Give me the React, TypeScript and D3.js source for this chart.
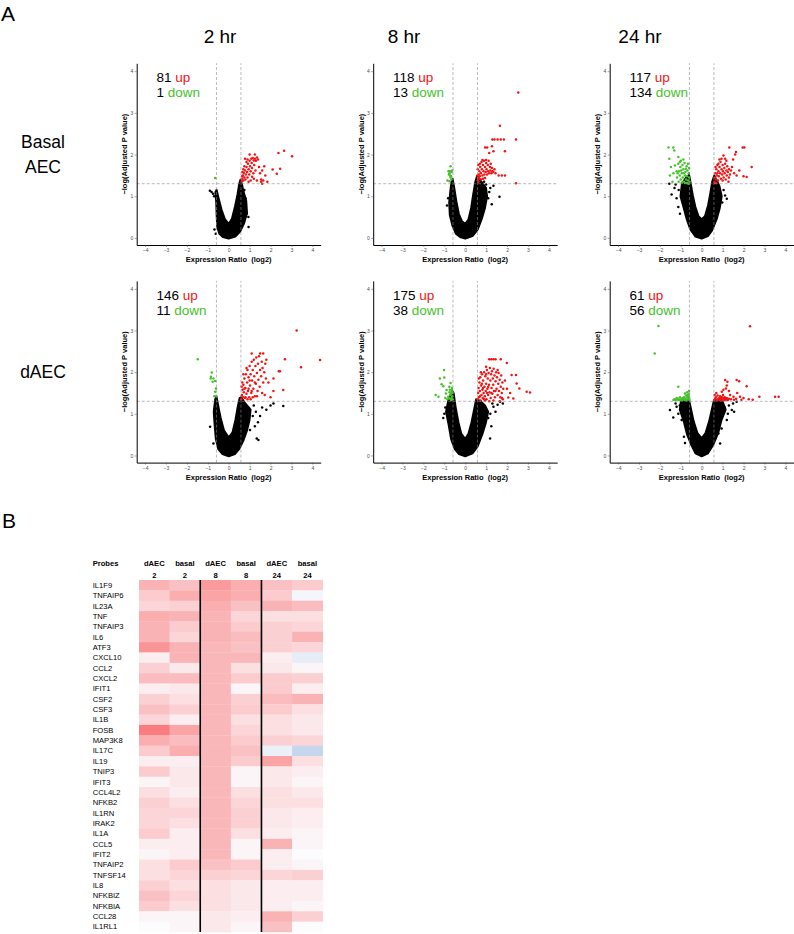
import React, { useEffect, useRef } from 'react'
import * as d3 from 'd3'

type Pt = [number, number]

// panel A: volcano plots
const hours = ['2 hr', '8 hr', '24 hr']
const hourTitleX = [220, 404, 640]
const cellTypes = [['Basal', 'AEC'], ['dAEC']]
const upCounts = [81, 118, 117, 146, 175, 61]
const downCounts = [1, 13, 134, 11, 38, 56]
const xTicks = [-4, -3, -2, -1, 0, 1, 2, 3, 4]
const yTicks = [0, 1, 2, 3, 4]
const foldCut = 0.585
const pCut = 1.301

// outline of the dense black (non significant) cloud, log2 ratio vs -log10 p
const basal2Body: Pt[] = [[0, -0.02], [-0.28, 0.02], [-0.45, 0.1], [-0.55, 0.25], [-0.58, 0.55], [-0.6, 0.85], [-0.64, 1.1], [-0.58, 1.16], [-0.48, 0.95], [-0.34, 0.68], [-0.18, 0.45], [0, 0.34], [0.15, 0.46], [0.3, 0.76], [0.42, 1.05], [0.5, 1.3], [0.56, 1.4], [0.63, 1.3], [0.72, 1.1], [0.84, 0.9], [0.88, 0.6], [0.74, 0.35], [0.55, 0.15], [0.32, 0.03]]
const basal8Body: Pt[] = [[0, -0.02], [-0.25, 0.02], [-0.45, 0.1], [-0.62, 0.3], [-0.74, 0.55], [-0.77, 0.85], [-0.72, 1.1], [-0.66, 1.35], [-0.6, 1.42], [-0.52, 1.2], [-0.42, 0.88], [-0.3, 0.58], [-0.15, 0.4], [0, 0.34], [0.15, 0.44], [0.28, 0.72], [0.38, 1.05], [0.48, 1.35], [0.56, 1.48], [0.64, 1.45], [0.85, 1.3], [1.0, 1.2], [1.05, 1.0], [0.95, 0.72], [0.8, 0.46], [0.6, 0.2], [0.35, 0.04]]
const basal24Body: Pt[] = [[0, -0.02], [-0.3, 0.03], [-0.55, 0.2], [-0.72, 0.45], [-0.88, 0.75], [-1.02, 1.0], [-0.95, 1.3], [-0.75, 1.45], [-0.6, 1.52], [-0.52, 1.3], [-0.42, 1.02], [-0.3, 0.75], [-0.15, 0.52], [0, 0.45], [0.15, 0.52], [0.3, 0.78], [0.4, 1.05], [0.5, 1.35], [0.6, 1.5], [0.68, 1.42], [0.85, 1.25], [0.96, 1.0], [0.86, 0.7], [0.72, 0.45], [0.5, 0.18], [0.3, 0.04]]
const dAEC2Body: Pt[] = [[0, -0.02], [-0.3, 0.03], [-0.5, 0.15], [-0.62, 0.4], [-0.68, 0.75], [-0.72, 1.05], [-0.65, 1.35], [-0.58, 1.42], [-0.5, 1.2], [-0.38, 0.9], [-0.22, 0.6], [0, 0.44], [0.18, 0.56], [0.32, 0.86], [0.42, 1.15], [0.52, 1.38], [0.6, 1.4], [0.8, 1.25], [1.05, 1.1], [1.0, 0.85], [0.88, 0.6], [0.7, 0.35], [0.5, 0.15], [0.3, 0.03]]
const dAEC8Body: Pt[] = [[0, -0.02], [-0.3, 0.03], [-0.5, 0.15], [-0.68, 0.4], [-0.8, 0.75], [-0.92, 1.05], [-0.8, 1.35], [-0.62, 1.55], [-0.55, 1.5], [-0.45, 1.15], [-0.32, 0.8], [-0.18, 0.52], [0, 0.4], [0.15, 0.52], [0.3, 0.8], [0.42, 1.1], [0.52, 1.35], [0.7, 1.32], [0.95, 1.2], [1.1, 1.05], [1.0, 0.8], [0.85, 0.55], [0.6, 0.22], [0.35, 0.05]]
const dAEC24Body: Pt[] = [[0, -0.02], [-0.3, 0.05], [-0.5, 0.25], [-0.7, 0.5], [-0.85, 0.8], [-1.05, 1.1], [-1.0, 1.3], [-0.6, 1.33], [-0.52, 1.15], [-0.38, 0.82], [-0.2, 0.54], [0, 0.42], [0.18, 0.54], [0.35, 0.82], [0.5, 1.15], [0.58, 1.33], [1.0, 1.3], [1.15, 1.1], [0.95, 0.85], [0.8, 0.55], [0.55, 0.25], [0.3, 0.05]]

// scattered non significant probes outside the cloud
const basal2Black: Pt[] = [[-0.9, 1.13], [-0.82, 1.1], [-0.75, 1.06], [-0.7, 1.0], [0.86, 0.58], [0.94, 0.5], [0.95, 0.26], [0.7, 0.74], [0.8, 0.95], [0.75, 1.15], [-0.68, 0.2], [-0.62, 0.1]]
const basal8Black: Pt[] = [[1.64, 0.99], [1.35, 1.25], [1.27, 0.81], [1.15, 1.1], [1.1, 0.95], [1.2, 1.2], [-0.87, 0.78], [-0.82, 0.95], [0.9, 1.35], [1.0, 1.28]]
const basal24Black: Pt[] = [[-1.44, 1.04], [-1.12, 0.74], [-1.04, 0.58], [-1.55, 1.3], [-1.2, 0.95], [-1.1, 1.15], [-1.3, 1.2], [1.2, 0.94], [1.12, 1.02], [1.05, 1.15], [0.98, 0.85], [-1.25, 1.28]]
const dAEC2Black: Pt[] = [[-0.89, 0.69], [-0.73, 0.29], [-0.65, 1.09], [2.14, 1.25], [2.0, 1.2], [1.8, 1.1], [1.5, 0.95], [1.4, 0.8], [1.25, 0.7], [1.42, 0.37], [1.34, 0.41], [1.02, 0.61], [2.61, 1.19], [1.6, 1.15], [1.3, 1.05], [1.15, 0.95], [1.2, 1.2]]
const dAEC8Black: Pt[] = [[-1.0, 1.0], [-0.95, 1.15], [-1.05, 0.9], [1.19, 0.41], [1.35, 1.17], [1.67, 1.29], [1.8, 1.25], [1.55, 1.22], [1.1, 0.9], [1.2, 1.0], [1.45, 1.05], [1.25, 0.7], [1.3, 1.25]]
const dAEC24Black: Pt[] = [[-1.52, 1.09], [-1.36, 0.91], [-1.2, 1.17], [-1.12, 1.0], [-0.96, 0.85], [-1.25, 1.25], [-1.05, 1.2], [1.67, 1.29], [1.44, 1.09], [1.55, 1.05], [1.2, 0.85], [0.88, 0.29], [0.8, 0.53], [1.3, 1.2], [1.5, 1.25], [1.1, 1.15], [1.25, 1.0], [0.95, 0.65], [-0.85, 0.45], [-0.8, 0.3]]

// significantly up regulated probes
const basal2Up: Pt[] = [[0.62, 1.36], [0.65, 1.42], [0.68, 1.5], [0.7, 1.38], [0.72, 1.56], [0.75, 1.45], [0.78, 1.62], [0.8, 1.4], [0.82, 1.52], [0.85, 1.7], [0.88, 1.58], [0.9, 1.45], [0.92, 1.78], [0.95, 1.65], [0.98, 1.52], [1.0, 1.85], [1.02, 1.72], [1.05, 1.6], [1.08, 1.9], [1.1, 1.8], [1.12, 1.68], [1.15, 1.92], [1.18, 1.55], [1.2, 1.86], [1.22, 1.75], [1.25, 1.9], [1.28, 1.62], [1.3, 1.85], [1.35, 1.93], [0.9, 1.88], [0.85, 1.82], [0.75, 1.72], [0.7, 1.65], [0.66, 1.58], [0.64, 1.48], [1.4, 1.88], [1.45, 1.7], [1.5, 1.55], [1.55, 1.4], [1.6, 1.62], [1.7, 1.72], [1.65, 1.38], [1.2, 1.42], [1.35, 1.38], [1.05, 1.38], [1.12, 1.47], [0.95, 1.35], [1.75, 1.5], [1.85, 1.35], [2.1, 1.64], [2.3, 1.54], [2.38, 2.04], [2.65, 2.09], [3.03, 1.96], [2.46, 1.66], [1.6, 1.3], [1.0, 2.0], [0.78, 1.9], [1.25, 2.0], [1.55, 1.35]]
const basal8Up: Pt[] = [[2.54, 3.49], [1.66, 2.69], [1.3, 2.36], [1.4, 2.36], [1.55, 2.36], [1.7, 2.36], [1.85, 2.36], [2.43, 2.36], [0.95, 2.17], [1.05, 2.17], [1.28, 2.2], [1.15, 2.04], [1.35, 2.08], [1.9, 2.08], [1.6, 1.5], [1.75, 1.5], [1.9, 1.5], [2.43, 1.31], [0.62, 1.45], [0.65, 1.52], [0.68, 1.6], [0.7, 1.48], [0.72, 1.7], [0.75, 1.55], [0.78, 1.82], [0.8, 1.65], [0.82, 1.5], [0.85, 1.75], [0.88, 1.6], [0.9, 1.85], [0.92, 1.52], [0.95, 1.7], [0.98, 1.58], [1.0, 1.8], [1.02, 1.65], [1.05, 1.52], [1.08, 1.75], [1.1, 1.6], [1.12, 1.85], [1.15, 1.55], [1.18, 1.7], [1.2, 1.62], [1.22, 1.78], [1.25, 1.55], [1.28, 1.68], [1.3, 1.6], [1.35, 1.58], [0.66, 1.42], [0.6, 1.38], [0.64, 1.35], [0.75, 1.4], [0.85, 1.42], [0.95, 1.44], [0.7, 1.78], [0.82, 1.87], [1.0, 1.87], [0.6, 1.65], [0.63, 1.75], [1.4, 1.65], [1.45, 1.55], [0.58, 1.5]]
const basal24Up: Pt[] = [[1.96, 2.17], [2.04, 2.17], [1.32, 2.17], [1.64, 2.06], [2.39, 1.7], [2.15, 1.46], [2.0, 1.48], [1.67, 1.5], [1.04, 1.98], [1.12, 1.9], [1.5, 1.88], [1.45, 1.7], [1.8, 1.62], [1.55, 1.55], [1.3, 1.45], [1.6, 2.0], [0.6, 1.35], [0.62, 1.45], [0.65, 1.55], [0.68, 1.4], [0.7, 1.65], [0.72, 1.5], [0.75, 1.75], [0.78, 1.38], [0.8, 1.6], [0.82, 1.48], [0.85, 1.7], [0.88, 1.55], [0.9, 1.82], [0.92, 1.42], [0.95, 1.65], [0.98, 1.52], [1.0, 1.75], [1.02, 1.6], [1.05, 1.45], [1.08, 1.68], [1.1, 1.55], [1.12, 1.78], [1.15, 1.4], [1.18, 1.62], [1.2, 1.5], [1.22, 1.72], [1.25, 1.58], [1.28, 1.35], [1.3, 1.65], [1.35, 1.52], [0.64, 1.32], [0.7, 1.32], [0.75, 1.55], [0.85, 1.88], [0.95, 1.9], [1.4, 1.62], [1.0, 1.38], [0.66, 1.7], [0.8, 1.78], [1.18, 1.85]]
const dAEC2Up: Pt[] = [[1.5, 2.45], [1.65, 2.45], [1.1, 2.45], [2.14, 1.85], [2.4, 2.02], [2.14, 1.55], [3.25, 3.0], [2.69, 2.31], [3.46, 2.12], [2.61, 1.57], [2.45, 2.02], [4.37, 2.29], [1.9, 1.75], [1.75, 2.2], [2.0, 1.4], [0.6, 1.35], [0.63, 1.45], [0.66, 1.58], [0.68, 1.4], [0.7, 1.7], [0.72, 1.52], [0.75, 1.85], [0.78, 1.38], [0.8, 1.62], [0.82, 1.95], [0.85, 1.48], [0.88, 1.75], [0.9, 2.05], [0.92, 1.55], [0.95, 1.88], [0.98, 1.4], [1.0, 2.15], [1.02, 1.68], [1.05, 1.95], [1.08, 1.5], [1.1, 2.25], [1.12, 1.8], [1.15, 2.05], [1.18, 1.6], [1.2, 2.3], [1.22, 1.9], [1.25, 1.42], [1.28, 2.15], [1.3, 1.72], [1.32, 2.35], [1.35, 1.98], [1.38, 1.55], [1.4, 2.2], [1.42, 1.82], [1.45, 2.38], [1.48, 1.65], [1.5, 2.05], [1.55, 1.9], [1.58, 2.25], [1.6, 1.5], [1.62, 2.1], [1.65, 1.75], [1.7, 2.0], [1.72, 1.45], [1.78, 1.85], [1.8, 2.3], [0.65, 1.75], [0.7, 1.95], [0.75, 1.6], [0.8, 1.4], [0.85, 2.1], [0.95, 1.6], [1.05, 1.35], [1.15, 1.4], [1.25, 1.75], [1.35, 1.42], [0.62, 1.65], [0.9, 1.35], [1.0, 1.8], [1.1, 1.55]]
const dAEC8Up: Pt[] = [[1.15, 2.31], [1.25, 2.31], [1.35, 2.31], [1.45, 2.31], [1.7, 2.31], [1.99, 2.22], [1.0, 2.13], [2.22, 1.93], [2.43, 1.93], [2.46, 1.73], [2.59, 1.61], [2.94, 1.53], [3.1, 1.51], [2.06, 1.39], [2.3, 1.37], [2.0, 1.6], [2.15, 1.5], [1.9, 1.8], [0.6, 1.35], [0.62, 1.5], [0.64, 1.62], [0.66, 1.4], [0.68, 1.75], [0.7, 1.55], [0.72, 1.88], [0.74, 1.32], [0.76, 1.68], [0.78, 1.45], [0.8, 1.95], [0.82, 1.58], [0.84, 1.38], [0.86, 1.8], [0.88, 1.5], [0.9, 2.0], [0.92, 1.65], [0.94, 1.42], [0.96, 1.9], [0.98, 1.55], [1.0, 1.72], [1.02, 1.35], [1.04, 2.05], [1.06, 1.6], [1.08, 1.85], [1.1, 1.45], [1.12, 1.98], [1.14, 1.7], [1.16, 1.52], [1.18, 2.1], [1.2, 1.8], [1.22, 1.38], [1.24, 1.95], [1.26, 1.62], [1.28, 2.02], [1.3, 1.48], [1.32, 1.85], [1.34, 1.7], [1.36, 2.08], [1.38, 1.55], [1.4, 1.92], [1.42, 1.4], [1.45, 1.78], [1.48, 2.0], [1.5, 1.6], [1.52, 1.88], [1.55, 1.45], [1.58, 1.72], [1.6, 1.98], [1.62, 1.55], [1.65, 1.82], [1.68, 1.4], [1.7, 1.65], [1.72, 1.92], [1.75, 1.5], [1.78, 1.75], [1.8, 1.35], [1.82, 1.6], [0.65, 1.85], [0.75, 2.0], [0.85, 1.62], [0.95, 1.32], [1.05, 1.5], [1.15, 1.3], [1.25, 1.5], [1.35, 1.32], [1.45, 1.55], [1.55, 2.05], [1.65, 1.3], [1.75, 1.38], [0.7, 1.42], [0.8, 1.72], [0.9, 1.35], [1.0, 1.95], [1.1, 1.65]]
const dAEC24Up: Pt[] = [[2.31, 3.1], [1.12, 1.81], [1.23, 1.77], [1.67, 1.81], [1.79, 1.78], [2.15, 1.66], [1.04, 1.58], [1.16, 1.61], [0.96, 1.53], [1.36, 1.45], [1.52, 1.41], [1.83, 1.41], [2.44, 1.34], [2.76, 1.41], [3.51, 1.41], [3.68, 1.41], [1.55, 1.34], [1.2, 1.68], [1.3, 1.55], [1.1, 1.4], [1.7, 1.5], [2.0, 1.38], [0.6, 1.33], [0.64, 1.36], [0.68, 1.4], [0.72, 1.34], [0.76, 1.44], [0.8, 1.37], [0.84, 1.33], [0.88, 1.42], [0.92, 1.36], [0.96, 1.4], [1.0, 1.34], [1.04, 1.38], [1.08, 1.33], [1.12, 1.36], [1.16, 1.34], [1.2, 1.38], [1.25, 1.33], [1.3, 1.36], [0.62, 1.45], [0.7, 1.5], [0.78, 1.33], [0.86, 1.38], [0.94, 1.33], [1.02, 1.45], [1.4, 1.35], [1.65, 1.36], [1.9, 1.34], [2.25, 1.35]]

// significantly down regulated probes
const basal2Down: Pt[] = [[-0.65, 1.44]]
const basal8Down: Pt[] = [[-0.7, 1.72], [-0.75, 1.55], [-0.72, 1.5], [-0.68, 1.48], [-0.78, 1.52], [-0.7, 1.45], [-0.65, 1.58], [-0.85, 1.38], [-0.75, 1.36], [-0.62, 1.62], [-0.8, 1.6], [-0.66, 1.4], [-0.73, 1.6]]
const basal24Down: Pt[] = [[-1.59, 2.17], [-1.36, 2.17], [-1.31, 2.1], [-1.55, 1.9], [-1.47, 1.7], [-1.52, 1.5], [-1.28, 1.74], [-1.12, 1.94], [-1.04, 1.82], [-1.2, 1.6], [-1.35, 1.55], [-1.4, 1.35], [-0.58, 1.35], [-0.6, 1.45], [-0.62, 1.55], [-0.65, 1.38], [-0.68, 1.62], [-0.7, 1.48], [-0.72, 1.72], [-0.75, 1.4], [-0.78, 1.58], [-0.8, 1.5], [-0.82, 1.8], [-0.85, 1.35], [-0.88, 1.65], [-0.9, 1.45], [-0.92, 1.75], [-0.95, 1.55], [-0.98, 1.62], [-1.0, 1.4], [-1.02, 1.7], [-1.05, 1.5], [-1.08, 1.6], [-1.1, 1.35], [-1.12, 1.78], [-1.15, 1.55], [-1.18, 1.45], [-0.6, 1.68], [-0.66, 1.78], [-0.7, 1.32], [-0.8, 1.32], [-0.88, 1.88], [-0.95, 1.33], [-0.76, 1.66], [-0.64, 1.3], [-0.86, 1.55], [-1.0, 1.85]]
const dAEC2Down: Pt[] = [[-1.48, 2.31], [-0.81, 1.99], [-0.85, 1.89], [-0.73, 1.85], [-0.65, 1.79], [-0.77, 1.77], [-0.86, 1.85], [-0.61, 1.61], [-0.65, 1.53], [-0.6, 1.42], [-0.69, 1.42]]
const dAEC8Down: Pt[] = [[-1.01, 2.05], [-1.21, 1.85], [-1.0, 1.87], [-1.13, 1.71], [-1.05, 1.66], [-0.7, 1.74], [-0.89, 1.57], [-0.73, 1.58], [-0.65, 1.53], [-1.41, 1.45], [-1.28, 1.41], [-0.81, 1.41], [-0.92, 1.49], [-0.6, 1.35], [-0.62, 1.42], [-0.64, 1.58], [-0.66, 1.38], [-0.68, 1.48], [-0.7, 1.35], [-0.72, 1.45], [-0.75, 1.52], [-0.78, 1.38], [-0.6, 1.5], [-0.63, 1.62], [-0.67, 1.33], [-0.85, 1.35], [-0.76, 1.65], [-0.95, 1.38]]
const dAEC24Down: Pt[] = [[-2.07, 3.11], [-2.25, 2.45], [-1.12, 1.65], [-0.8, 1.49], [-0.58, 1.33], [-0.6, 1.38], [-0.63, 1.42], [-0.66, 1.35], [-0.69, 1.4], [-0.72, 1.33], [-0.75, 1.44], [-0.78, 1.37], [-0.81, 1.33], [-0.84, 1.4], [-0.87, 1.35], [-0.9, 1.38], [-0.93, 1.33], [-0.96, 1.36], [-1.0, 1.34], [-1.04, 1.4], [-1.08, 1.33], [-1.12, 1.36], [-1.16, 1.34], [-1.2, 1.38], [-1.25, 1.33], [-1.3, 1.35], [-1.35, 1.33], [-0.62, 1.48], [-0.68, 1.46], [-0.7, 1.52], [-0.6, 1.55]]

const bodies = [basal2Body, basal8Body, basal24Body, dAEC2Body, dAEC8Body, dAEC24Body]
const blacks = [basal2Black, basal8Black, basal24Black, dAEC2Black, dAEC8Black, dAEC24Black]
const ups = [basal2Up, basal8Up, basal24Up, dAEC2Up, dAEC8Up, dAEC24Up]
const downs = [basal2Down, basal8Down, basal24Down, dAEC2Down, dAEC8Down, dAEC24Down]

// panel B: heatmap (log2 ratio)
const probes = ['IL1F9', 'TNFAIP6', 'IL23A', 'TNF', 'TNFAIP3', 'IL6', 'ATF3', 'CXCL10', 'CCL2', 'CXCL2', 'IFIT1', 'CSF2', 'CSF3', 'IL1B', 'FOSB', 'MAP3K8', 'IL17C', 'IL19', 'TNIP3', 'IFIT3', 'CCL4L2', 'NFKB2', 'IL1RN', 'IRAK2', 'IL1A', 'CCL5', 'IFIT2', 'TNFAIP2', 'TNFSF14', 'IL8', 'NFKBIZ', 'NFKBIA', 'CCL28', 'IL1RL1']
const heatGroups = ['dAEC', 'basal', 'dAEC', 'basal', 'dAEC', 'basal']
const heatHours = ['2', '2', '8', '8', '24', '24']
const heatValues = [
  [1.5, 1.2, 2.0, 1.6, 1.2, 1.0],
  [1.0, 1.6, 1.8, 1.6, 1.0, -0.15],
  [0.8, 0.9, 1.6, 1.2, 1.5, 1.3],
  [1.6, 1.5, 1.5, 0.8, 0.6, 0.6],
  [1.5, 1.0, 1.5, 1.0, 0.9, 0.8],
  [1.5, 0.8, 1.5, 1.3, 0.9, 1.5],
  [2.1, 1.5, 1.4, 1.2, 0.9, 0.8],
  [0.3, 1.5, 1.4, 1.4, 0.3, -0.4],
  [0.9, 0.4, 1.4, 0.6, 0.4, 0.15],
  [1.3, 1.3, 1.4, 1.0, 1.0, 0.9],
  [0.3, 0.4, 1.4, 0.15, 1.0, 0.3],
  [0.9, 0.6, 1.4, 0.9, 1.3, 1.5],
  [1.2, 0.9, 1.4, 1.0, 1.0, 0.6],
  [0.8, 0.3, 1.4, 0.6, 0.6, 0.4],
  [2.6, 1.8, 1.4, 0.8, 0.6, 0.4],
  [1.6, 1.3, 1.4, 1.0, 0.9, 0.8],
  [1.0, 1.6, 1.4, 1.2, -0.3, -1.0],
  [0.3, 0.3, 1.4, 1.0, 1.8, 0.6],
  [1.0, 0.4, 1.4, 0.15, 0.4, 0.3],
  [0.15, 0.4, 1.4, 0.15, 0.4, 0.15],
  [0.6, 0.3, 1.4, 0.6, 0.6, 0.4],
  [0.9, 0.6, 1.4, 0.8, 0.6, 0.6],
  [0.8, 0.8, 1.4, 0.9, 0.4, 0.3],
  [0.8, 0.6, 1.4, 0.9, 0.4, 0.3],
  [1.0, 0.3, 1.4, 0.6, 0.3, 0.15],
  [0.3, 0.3, 1.4, 0.15, 1.5, 0.15],
  [0.15, 0.3, 1.4, 0.15, 0.3, 0.0],
  [0.6, 1.0, 1.2, 1.0, 0.3, 0.15],
  [0.6, 0.8, 0.9, 0.8, 0.8, 0.9],
  [0.9, 0.6, 0.6, 0.4, 0.3, 0.3],
  [1.2, 0.8, 0.6, 0.4, 0.3, 0.3],
  [1.0, 0.6, 0.6, 0.4, 0.3, 0.15],
  [0.15, 0.15, 0.4, 0.3, 1.5, 0.9],
  [0.0, 0.15, 0.4, 0.15, 1.2, 0.0],
]

const FONT = 'Liberation Sans, Arial, Helvetica, sans-serif'
const RED = '#f01414'
const GREEN = '#45c22a'

const App = () => {
  const svgRef = useRef<SVGSVGElement>(null)

  useEffect(() => {
    const svg = d3.select(svgRef.current)
    svg.selectAll('*').remove()
    svg.attr('font-family', FONT)

    // panel letters and strip labels
    svg.append('text').attr('x', 1).attr('y', 21).attr('font-size', 21).text('A')
    svg.append('text').attr('x', 2).attr('y', 528).attr('font-size', 21).text('B')

    hours.forEach((h, i) => {
      svg.append('text').attr('x', hourTitleX[i]).attr('y', 43).attr('font-size', 19)
        .attr('text-anchor', 'middle').text(h)
    })

    const line = (x: d3.ScaleLinear<number, number>, y: d3.ScaleLinear<number, number>) =>
      d3.line<Pt>().x((d) => x(d[0])).y((d) => y(d[1])).curve(d3.curveLinearClosed)

    bodies.forEach((body, i) => {
      const col = i % 3
      const row = Math.floor(i / 3)
      const x = d3.scaleLinear().domain([-4.4, 4.4]).range([136.7 + col * 236.5, 320.7 + col * 236.5])
      const y = d3.scaleLinear().domain([-0.17, 4.19]).range([245 + row * 217.6, 63.3 + row * 217.6])
      const g = svg.append('g')

      // black cloud
      g.append('path').datum(body).attr('d', line(x, y))
        .attr('fill', '#000').attr('stroke', '#000').attr('stroke-width', 1.8).attr('stroke-linejoin', 'round')

      const dots = (pts: Pt[], color: string) =>
        g.append('g').selectAll('circle').data(pts).join('circle')
          .attr('cx', (d) => x(d[0])).attr('cy', (d) => y(d[1])).attr('r', 1.25).attr('fill', color)

      dots(blacks[i], '#000')
      dots(ups[i], RED)
      dots(downs[i], GREEN)

      // cut-off lines
      const dash = (x1: number, y1: number, x2: number, y2: number) =>
        g.append('line').attr('x1', x1).attr('y1', y1).attr('x2', x2).attr('y2', y2)
          .attr('stroke', '#8c8c8c').attr('stroke-width', 0.6).attr('stroke-dasharray', '3,2')
      dash(x(-foldCut), y.range()[0], x(-foldCut), y.range()[1])
      dash(x(foldCut), y.range()[0], x(foldCut), y.range()[1])
      dash(x.range()[0], y(pCut), x.range()[1], y(pCut))

      // axes
      const styleAxis = (a: d3.Selection<SVGGElement, unknown, null, undefined>) => {
        a.select('.domain').attr('stroke', '#000').attr('stroke-width', 1)
        a.selectAll('.tick line').attr('stroke', '#444').attr('stroke-width', 0.5)
        a.selectAll('.tick text').attr('font-size', 5).attr('fill', '#4d4d4d').attr('font-family', FONT)
      }
      g.append('g').attr('transform', `translate(0,${y.range()[0]})`)
        .call(d3.axisBottom(x).tickValues(xTicks).tickFormat(d3.format('d')).tickSize(2).tickSizeOuter(0).tickPadding(1.5))
        .call(styleAxis)
      g.append('g').attr('transform', `translate(${x.range()[0]},0)`)
        .call(d3.axisLeft(y).tickValues(yTicks).tickFormat(d3.format('d')).tickSize(2).tickSizeOuter(0).tickPadding(1.5))
        .call(styleAxis)

      g.append('text').attr('x', x(0)).attr('y', y.range()[0] + 17).attr('text-anchor', 'middle')
        .attr('font-size', 7.5).attr('font-weight', 'bold').style('white-space', 'pre')
        .text('Expression Ratio  (log2)')
      g.append('text')
        .attr('transform', `translate(${x.range()[0] - 9.7},${y(2.01)}) rotate(-90)`)
        .attr('text-anchor', 'middle').attr('font-size', 7.5).attr('font-weight', 'bold')
        .text('\u2212log(Adjusted P value)')

      // counts
      const t1 = g.append('text').attr('x', x(-3.45)).attr('y', y(3.74)).attr('font-size', 13.5)
      t1.append('tspan').text(`${upCounts[i]} `)
      t1.append('tspan').attr('fill', RED).text('up')
      const t2 = g.append('text').attr('x', x(-3.45)).attr('y', y(3.37)).attr('font-size', 13.5)
      t2.append('tspan').text(`${downCounts[i]} `)
      t2.append('tspan').attr('fill', GREEN).text('down')

      if (col === 0) {
        const lines = cellTypes[row]
        const mid = y(2.01) + 6
        lines.forEach((l, k) => {
          svg.append('text').attr('x', 43).attr('y', mid + (k - (lines.length - 1) / 2) * 25)
            .attr('font-size', 17.5).attr('text-anchor', 'middle').text(l)
        })
      }
    })

    // heatmap
    const cols = d3.range(heatGroups.length)
    const hx = d3.scaleBand<number>().domain(cols).range([139, 322.7])
    const hy = d3.scaleBand<string>().domain(probes).range([580, 932])
    const color = d3.scaleLinear<string>().domain([-3, 0, 3]).range(['#5a8ac6', '#fcfcff', '#f8696b'])
    const hm = svg.append('g')

    hm.append('text').attr('x', 92.7).attr('y', 565.7).attr('font-size', 7.6).attr('font-weight', 'bold').text('Probes')
    cols.forEach((c) => {
      const cx = (hx(c) ?? 0) + hx.bandwidth() / 2
      hm.append('text').attr('x', cx).attr('y', 565.7).attr('font-size', 7.6).attr('font-weight', 'bold')
        .attr('text-anchor', 'middle').text(heatGroups[c])
      hm.append('text').attr('x', cx).attr('y', 577.7).attr('font-size', 7.6).attr('font-weight', 'bold')
        .attr('text-anchor', 'middle').text(heatHours[c])
    })

    probes.forEach((p, r) => {
      hm.append('text').attr('x', 92.7).attr('y', (hy(p) ?? 0) + hy.bandwidth() / 2)
        .attr('dy', '0.35em').attr('font-size', 7.6).text(p)
      hm.append('g').selectAll('rect').data(heatValues[r]).join('rect')
        .attr('x', (_, c) => hx(c) ?? 0).attr('y', hy(p) ?? 0)
        .attr('width', hx.bandwidth() + 0.3).attr('height', hy.bandwidth() + 0.3)
        .attr('fill', (v) => color(v))
    })

    // separators between time points
    ;[2, 4].forEach((c) => {
      hm.append('line').attr('x1', hx(c) ?? 0).attr('x2', hx(c) ?? 0)
        .attr('y1', hy.range()[0]).attr('y2', hy.range()[1])
        .attr('stroke', '#000').attr('stroke-width', 1.6)
    })
  }, [])

  return (
    <svg
      ref={svgRef}
      width={794}
      height={934}
      style={{ position: 'absolute', left: 0, top: 0, display: 'block', background: '#fff' }}
    />
  )
}

export default App
